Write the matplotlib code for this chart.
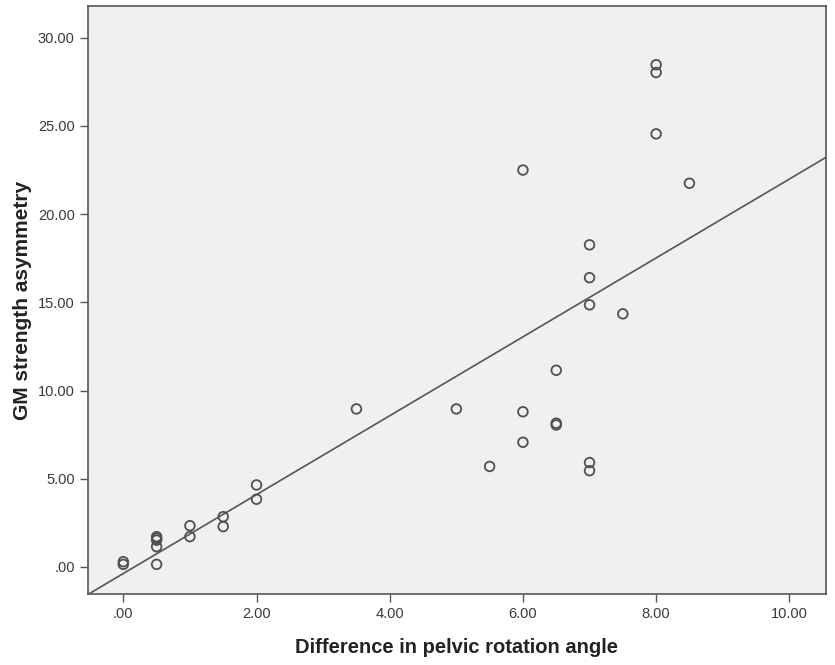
"""
Scatter of GM strength asymmetry against difference in pelvic rotation angle,
with a linear fit line (SPSS-style look).
"""
import matplotlib.pyplot as plt
import matplotlib.ticker as mticker
import numpy as np

plt.rcParams["font.family"] = ["Liberation Sans", "DejaVu Sans"]

# values
rotation_diff = [0.0, 0.0,
                 0.5, 0.5, 0.5, 0.5, 0.5,
                 1.0, 1.0, 1.5, 1.5, 2.0, 2.0,
                 3.5, 5.0, 5.5,
                 6.0, 6.0, 6.0,
                 6.5, 6.5, 6.5,
                 7.0, 7.0, 7.0, 7.0, 7.0,
                 7.5, 8.0, 8.0, 8.0, 8.5]
gm_asymmetry = [0.30, 0.15,
                1.72, 1.62, 1.52, 1.15, 0.15,
                2.34, 1.72, 2.85, 2.29, 4.65, 3.84,
                8.96, 8.96, 5.70,
                22.50, 8.80, 7.07,
                11.15, 8.15, 8.05,
                18.26, 16.40, 14.86, 5.92, 5.46,
                14.35, 28.47, 28.03, 24.55, 21.75]

# fit line as drawn in the chart (intercept, slope)
fit_intercept = -0.37
fit_slope = 2.236

x_ticks = [0, 2, 4, 6, 8, 10]
y_ticks = [0, 5, 10, 15, 20, 25, 30]


def tick_fmt(v, _pos):
    s = "%.2f" % v
    return s[1:] if s.startswith("0.") else s


def show_scatter():
    fig = plt.figure(figsize=(8.35, 6.65), dpi=100)
    ax = fig.add_axes([0.1054, 0.1068, 0.8838, 0.8842])
    ax.set_facecolor("#f0f0f0")

    ax.scatter(rotation_diff, gm_asymmetry, s=48, facecolors="none",
               edgecolors="#505050", linewidths=1.3, zorder=3)

    xlim = (-0.53, 10.55)
    xs = np.array(xlim)
    ax.plot(xs, fit_intercept + fit_slope * xs, color="#555555", lw=1.2,
            zorder=2)

    ax.set_xlim(*xlim)
    ax.set_ylim(-1.53, 31.8)
    ax.set_xticks(x_ticks)
    ax.set_yticks(y_ticks)
    ax.xaxis.set_major_formatter(mticker.FuncFormatter(tick_fmt))
    ax.yaxis.set_major_formatter(mticker.FuncFormatter(tick_fmt))
    ax.tick_params(direction="out", length=6, width=1, colors="#555555",
                   labelcolor="#3a3a3a", labelsize=10.5, top=False,
                   right=False)
    for sp in ax.spines.values():
        sp.set_color("#555555")
        sp.set_linewidth(1.2)

    ax.set_xlabel("Difference in pelvic rotation angle", fontsize=14.5,
                  fontweight="bold", color="#222222", labelpad=12)
    ax.set_ylabel("GM strength asymmetry", fontsize=15,
                  fontweight="bold", color="#222222", labelpad=4)

    fig.savefig("out.png", dpi=100)


if __name__ == "__main__":
    show_scatter()
